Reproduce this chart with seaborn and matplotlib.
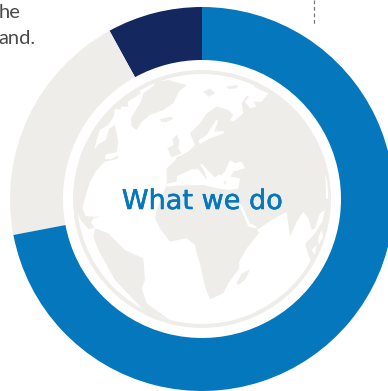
import numpy as np
import matplotlib
matplotlib.use("Agg")
import matplotlib.pyplot as plt
import matplotlib.patheffects as pe
from matplotlib.patches import Polygon, Wedge
import seaborn as sns

# Donut shares, listed counter-clockwise from twelve o'clock
segments = ["Dark", "Neutral", "Blue"]
shares = [8, 20, 72]
segment_colors = ["#14275F", "#EEEDEA", "#0477BD"]

LAND = "#EEEDEA"
BLUE = "#0477BD"
W, H = 388, 391
CX, CY = 202, 199

# Globe artwork, sketched on a 3x grid anchored at (60, 70)
greenland = [(290,35),(325,30),(380,45),(357,65),(340,100),(310,120),(270,135),(245,155),(230,180),
             (215,170),(213,145),(227,120),(243,95),(250,70),(277,50)]
iceland = [(300,147),(335,140),(340,147),(315,157),(303,155)]
north_america = [(243,70),(220,85),(203,95),(205,110),(185,110),(180,120),(165,115),(161,140),(145,165),
                 (120,180),(110,210),(103,240),(115,223),(137,210),(148,175),(165,165),(175,215),(170,247),
                 (137,253),(135,267),(155,267),(175,255),(173,267),(135,275),(110,300),(90,335),(75,385),
                 (67,415),(77,438),(100,440),(120,440),(100,445),(93,458),(103,472),(87,478),(65,455),
                 (53,430),(45,390)]
south_america = [(105,475),(145,490),(170,515),(195,540),(250,565),(255,630),(245,655),(260,700),(327,748),
                 (255,725),(165,630),(115,540),(100,500)]
britain = [(350,195),(358,210),(355,235),(365,250),(335,262),(322,235),(340,225),(338,205)]
svalbard = [(430,65),(450,55),(465,70),(445,80),(440,75)]
novaya = [(500,50),(535,45),(530,55),(505,57)]
arctic_strip = [(580,45),(625,65),(625,70),(585,52)]
madagascar = [(570,598),(555,630),(535,645),(530,640),(545,610)]
eurasia_north = [(320,345),(320,295),(345,272),(350,262),(385,245),(405,225),(390,190),(420,160),(440,130),
                 (470,110),(505,120),(520,135),(510,150),(520,155),(550,130),(545,100),(560,77),(568,80),
                 (555,95),(570,115),(590,110),(580,95),(605,95),(625,70),(635,75),(660,90)]
afro_asia_south = [(755,578),(745,555),(735,522),(765,490),(787,455),(795,420),(780,430),(765,475),(755,480),
                   (745,445),(730,425),(710,455),(695,490),(690,500),(680,425),(635,450),(590,480),(598,488),
                   (560,535),(538,575),(538,595),(505,640),(490,670),(450,688),(435,650),(420,580),(410,550),
                   (405,525),(380,505),(330,515),(300,475),(285,445),(290,420)]
mediterranean = [(318,342),(350,335),(352,318),(395,298),(415,298),(440,330),(432,290),(465,322),(478,312),
                 (495,345),(505,318),(540,325),(535,355),(510,360),(470,355),(430,345),(350,347),(320,350)]
black_sea = [(510,270),(525,280),(545,275),(555,295),(520,305),(505,330),(480,340),(465,330),(495,305)]
adriatic = [(420,283),(428,283),(458,325),(450,330)]
baltic = [(468,150),(475,152),(462,185),(490,183),(492,190),(450,205),(420,222),(415,212),(440,195)]
red_sea = [(535,400),(545,405),(570,460),(590,470),(590,475),(565,470)]
okhotsk = [(795,315),(802,335),(805,385),(798,388),(797,340)]
sunda_gaps = [(775,500),(785,482),(790,500),(775,525)]
java_gaps = [(755,540),(770,525),(765,555)]


def grid_to_fig(points):
    pts = np.asarray(points, dtype=float)
    return np.column_stack([60 + pts[:, 0] / 3, H - (70 + pts[:, 1] / 3)])


def ring_arc(start, stop, radius=127, n=40):
    a = np.radians(np.linspace(start, stop, n))
    return np.column_stack([CX + radius * np.cos(a), (H - CY) + radius * np.sin(a)])


sns.set_theme(style="white")
fig = plt.figure(figsize=(W / 100, H / 100), dpi=100, facecolor="white")
ax = fig.add_axes([0, 0, 1, 1])

palette = sns.color_palette(segment_colors)
ax.pie(shares, colors=palette, startangle=90, counterclock=True,
       center=(CX, H - CY), radius=192,
       wedgeprops=dict(width=53, linewidth=0))

ax.add_patch(Wedge((CX, H - CY), 129, 0, 360, width=4, facecolor=LAND, linewidth=0))

for shape in [greenland, iceland, south_america, britain, svalbard, novaya, arctic_strip]:
    ax.add_patch(Polygon(grid_to_fig(shape), facecolor=LAND, linewidth=0))

# Landmasses that run out to the globe's rim close along an arc
ax.add_patch(Polygon(np.vstack([grid_to_fig(north_america), ring_arc(180, 120)]),
                     facecolor=LAND, linewidth=0))
ax.add_patch(Polygon(np.vstack([grid_to_fig(eurasia_north), ring_arc(52, -30),
                                grid_to_fig(afro_asia_south)]),
                     facecolor=LAND, linewidth=0))

for shape in [mediterranean, black_sea, adriatic, baltic, red_sea, okhotsk, sunda_gaps, java_gaps]:
    ax.add_patch(Polygon(grid_to_fig(shape), facecolor="white", linewidth=0))
ax.add_patch(Polygon(grid_to_fig(madagascar), facecolor=LAND, linewidth=0))

ax.text(CX + 0.5, H - 209, "What we do", color=BLUE, fontsize=19.5, family="DejaVu Sans",
        ha="center", va="baseline",
        path_effects=[pe.withStroke(linewidth=0.4, foreground=BLUE)])

# Tail of the caption running in from the left, and the leader above the ring
ax.text(21, H - 18, "he", color="#4A4A4A", fontsize=14.5, family="Lato",
        ha="right", va="baseline")
ax.text(35.5, H - 44, "and.", color="#4A4A4A", fontsize=14.5, family="Lato",
        ha="right", va="baseline")
ax.plot([314, 314], [H, H - 26], color="#777777", lw=0.9, ls=(0, (3, 2.2)))

ax.set_xlim(0, W)
ax.set_ylim(0, H)
ax.set_aspect("equal")
ax.axis("off")
fig.savefig("out.png", dpi=100, facecolor="white")
